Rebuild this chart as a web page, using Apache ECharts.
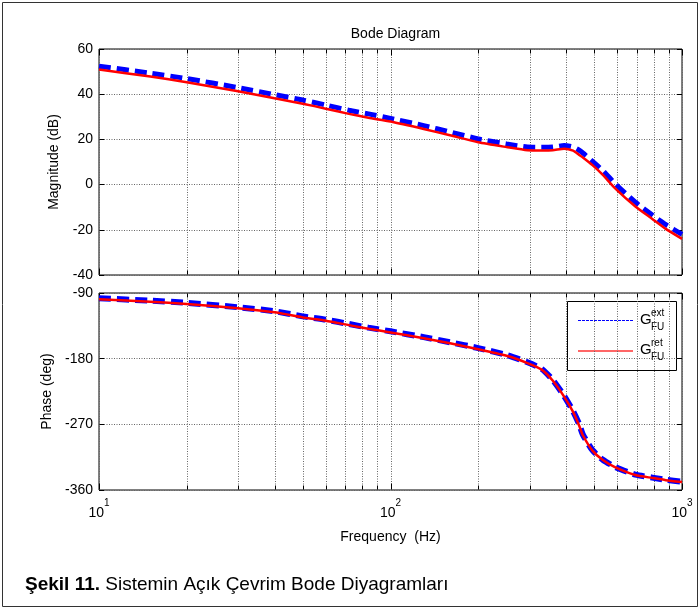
<!DOCTYPE html>
<html>
<head>
<meta charset="utf-8">
<script src="https://cdn.jsdelivr.net/npm/echarts@6/dist/echarts.min.js"></script>
<style>
html,body{margin:0;padding:0;background:#fff;}
#chart{width:700px;height:609px;}
</style>
</head>
<body>
<div id="chart"></div>
<script>
// ---- data ----
const freq = [10, 15, 20, 30, 40, 50, 60, 72, 84, 100, 130, 160, 200, 250, 295, 330, 360, 394, 423, 444, 457, 493, 535, 591, 692, 791, 880, 1000];
const magExt = [52.4, 49.3, 46.9, 42.9, 39.8, 37.4, 35.2, 32.9, 31.3, 29.3, 26.1, 23.3, 20.2, 18.0, 16.6, 16.5, 16.6, 17.3, 16.6, 15.2, 14.0, 10.3, 6.2, 0.3, -7.8, -13.5, -17.7, -22.0];
const magRet = [50.9, 47.8, 45.3, 41.3, 38.2, 35.8, 33.6, 31.3, 29.6, 27.9, 24.6, 21.8, 18.7, 16.6, 15.2, 15.1, 15.2, 15.9, 15.0, 13.1, 12.0, 8.6, 4.3, -1.8, -9.7, -15.2, -19.6, -24.0];
const phExt = [-97.2, -100.5, -103.5, -109.5, -115, -122, -126.5, -132.5, -137.5, -142.5, -150.5, -157.5, -165.5, -175, -185, -194, -209, -231, -252, -270, -284, -305.5, -318.5, -328.5, -339, -343, -346, -348.5];
const phRet = [-98.6, -102, -105, -111, -116.5, -123.5, -128, -134, -139, -144, -152, -159, -167, -176, -186, -195, -210, -232, -253, -272, -285, -306, -319, -329, -339.5, -343.5, -346.5, -349];
const gridFreqs = [10, 20, 30, 40, 50, 60, 70, 80, 90, 100, 200, 300, 400, 500, 600, 700, 800, 900, 1000];
const magTicks = { min: -40, max: 60, step: 20 };
const phTicks = { min: -360, max: -90, step: 90 };
const seriesNames = ['ext', 'ret'];

const FONT = '"Liberation Sans", Arial, Helvetica, sans-serif';
const chart = echarts.init(document.getElementById('chart'), null, { renderer: 'canvas' });

function pairs(ys) { return freq.map((f, i) => [f, ys[i]]); }

function vgridRender(params, api) {
  const cs = params.coordSys;
  const f = api.value(0);
  let x = api.coord([f, api.value(1)])[0];
  x = Math.round(x) + 0.5;
  const isMajor = Math.abs(Math.log10(f) - Math.round(Math.log10(f))) < 1e-9;
  const tl = isMajor ? 6 : 4;
  const top = Math.round(cs.y) + 0.5, bot = Math.round(cs.y + cs.height) - 0.5;
  return {
    type: 'group',
    children: [
      { type: 'line', shape: { x1: x, y1: top, x2: x, y2: bot }, style: { stroke: '#666', lineWidth: 1, lineDash: [1, 1.5] }, silent: true },
      { type: 'line', shape: { x1: x, y1: top, x2: x, y2: top + tl }, style: { stroke: '#000', lineWidth: 1 }, silent: true },
      { type: 'line', shape: { x1: x, y1: bot, x2: x, y2: bot - tl }, style: { stroke: '#000', lineWidth: 1 }, silent: true }
    ]
  };
}

const gridL = 99, gridW = 583;
const xBase = {
  type: 'log', logBase: 10, min: 10, max: 1000,
  axisLine: { show: false }, axisTick: { show: false },
  splitLine: { show: false }, minorTick: { show: false }, minorSplitLine: { show: false }
};
function yAxisDef(gi, t, left, name, gap) {
  return {
    type: 'value', gridIndex: gi, min: t.min, max: t.max, interval: t.step,
    position: left ? 'left' : 'right',
    name: left ? name : '', nameLocation: 'middle', nameGap: gap, nameRotate: 90,
    nameTextStyle: { fontFamily: FONT, fontSize: 14, color: '#000' },
    axisLine: { show: false },
    axisTick: { show: true, inside: true, length: 5, lineStyle: { color: '#000', width: 1 } },
    axisLabel: { show: left, fontFamily: FONT, fontSize: 14, color: '#000', margin: 6 },
    splitLine: { show: left, lineStyle: { color: '#666', width: 1, type: [1, 1.5] } }
  };
}
const SM = 0.2;

const option = {
  animation: false,
  backgroundColor: '#fff',
  title: [
    { text: 'Bode Diagram', left: gridL + gridW / 2, top: 22, textAlign: 'center',
      textStyle: { fontFamily: FONT, fontSize: 14, fontWeight: 'normal', color: '#000' } },
    { text: '{b|Şekil 11.} {n|Sistemin Açık Çevrim Bode Diyagramları}', left: 20, top: 570,
      textStyle: { fontWeight: 'normal', fontFamily: FONT, fontSize: 19, rich: {
        b: { fontFamily: FONT, fontSize: 19, fontWeight: 'bold', color: '#000' },
        n: { fontFamily: FONT, fontSize: 19, fontWeight: 'normal', color: '#000' } } } }
  ],
  grid: [
    { left: gridL, top: 49, width: gridW, height: 226, show: true, borderColor: '#000', borderWidth: 1, backgroundColor: '#fff', containLabel: false, outerBoundsMode: 'none' },
    { left: gridL, top: 293, width: gridW, height: 197, show: true, borderColor: '#000', borderWidth: 1, backgroundColor: '#fff', containLabel: false, outerBoundsMode: 'none' }
  ],
  xAxis: [
    Object.assign({}, xBase, { gridIndex: 0, axisLabel: { show: false } }),
    Object.assign({}, xBase, { gridIndex: 1,
      name: 'Frequency  (Hz)', nameLocation: 'middle', nameGap: 40,
      nameTextStyle: { fontFamily: FONT, fontSize: 14, color: '#000' },
      axisLabel: {
        show: true, margin: 8,
        formatter: v => '{b|10}{s|' + Math.round(Math.log10(v)) + '}',
        rich: {
          b: { fontFamily: FONT, fontSize: 14, color: '#000', lineHeight: 22, verticalAlign: 'bottom' },
          s: { fontFamily: FONT, fontSize: 10, color: '#000', lineHeight: 22, verticalAlign: 'top' }
        }
      } })
  ],
  yAxis: [
    yAxisDef(0, magTicks, true, 'Magnitude (dB)', 38),
    yAxisDef(0, magTicks, false),
    yAxisDef(1, phTicks, true, 'Phase (deg)', 44),
    yAxisDef(1, phTicks, false)
  ],
  series: [
    { type: 'custom', xAxisIndex: 0, yAxisIndex: 0, data: gridFreqs.map(f => [f, 0]), renderItem: vgridRender, silent: true, z: 1 },
    { type: 'custom', xAxisIndex: 1, yAxisIndex: 2, data: gridFreqs.map(f => [f, -180]), renderItem: vgridRender, silent: true, z: 1 },
    { name: seriesNames[0], type: 'line', xAxisIndex: 0, yAxisIndex: 0, data: pairs(magExt), showSymbol: false, smooth: SM,
      lineStyle: { color: '#0000ff', width: 5, type: [12, 6] }, z: 3 },
    { name: seriesNames[1], type: 'line', xAxisIndex: 0, yAxisIndex: 0, data: pairs(magRet), showSymbol: false, smooth: SM,
      lineStyle: { color: '#ff0000', width: 2.5 }, z: 4 },
    { name: seriesNames[0], type: 'line', xAxisIndex: 1, yAxisIndex: 2, data: pairs(phExt), showSymbol: false, smooth: SM,
      lineStyle: { color: '#0000ff', width: 6, type: [12, 6] }, z: 3 },
    { name: seriesNames[1], type: 'line', xAxisIndex: 1, yAxisIndex: 2, data: pairs(phRet), showSymbol: false, smooth: SM,
      lineStyle: { color: '#ff0000', width: 2.5 }, z: 4 }
  ],
  graphic: [
    { type: 'rect', shape: { x: 2.5, y: 2.5, width: 695, height: 604 }, style: { fill: 'none', stroke: '#333', lineWidth: 1 }, silent: true, z: 0 },
    { type: 'group', z: 100, children: [
      { type: 'rect', shape: { x: 567.5, y: 301.5, width: 109, height: 69 }, style: { fill: '#fff', stroke: '#000', lineWidth: 1 } },
      { type: 'line', shape: { x1: 578, y1: 320.5, x2: 633, y2: 320.5 }, style: { stroke: '#0000ff', lineWidth: 1, lineDash: [3, 1] } },
      { type: 'text', x: 640, y: 320, style: { text: 'G', fontFamily: FONT, fontSize: 15, fill: '#000', verticalAlign: 'middle' } },
      { type: 'text', x: 651, y: 313, style: { text: 'ext', fontFamily: FONT, fontSize: 10, fill: '#000', verticalAlign: 'middle' } },
      { type: 'text', x: 651, y: 327, style: { text: 'FU', fontFamily: FONT, fontSize: 10, fill: '#000', verticalAlign: 'middle' } },
      { type: 'line', shape: { x1: 578, y1: 351, x2: 633, y2: 351 }, style: { stroke: '#ff3333', lineWidth: 1.5 } },
      { type: 'text', x: 640, y: 350, style: { text: 'G', fontFamily: FONT, fontSize: 15, fill: '#000', verticalAlign: 'middle' } },
      { type: 'text', x: 651, y: 343, style: { text: 'ret', fontFamily: FONT, fontSize: 10, fill: '#000', verticalAlign: 'middle' } },
      { type: 'text', x: 651, y: 357, style: { text: 'FU', fontFamily: FONT, fontSize: 10, fill: '#000', verticalAlign: 'middle' } }
    ] }
  ]
};
chart.setOption(option);
</script>
</body>
</html>
